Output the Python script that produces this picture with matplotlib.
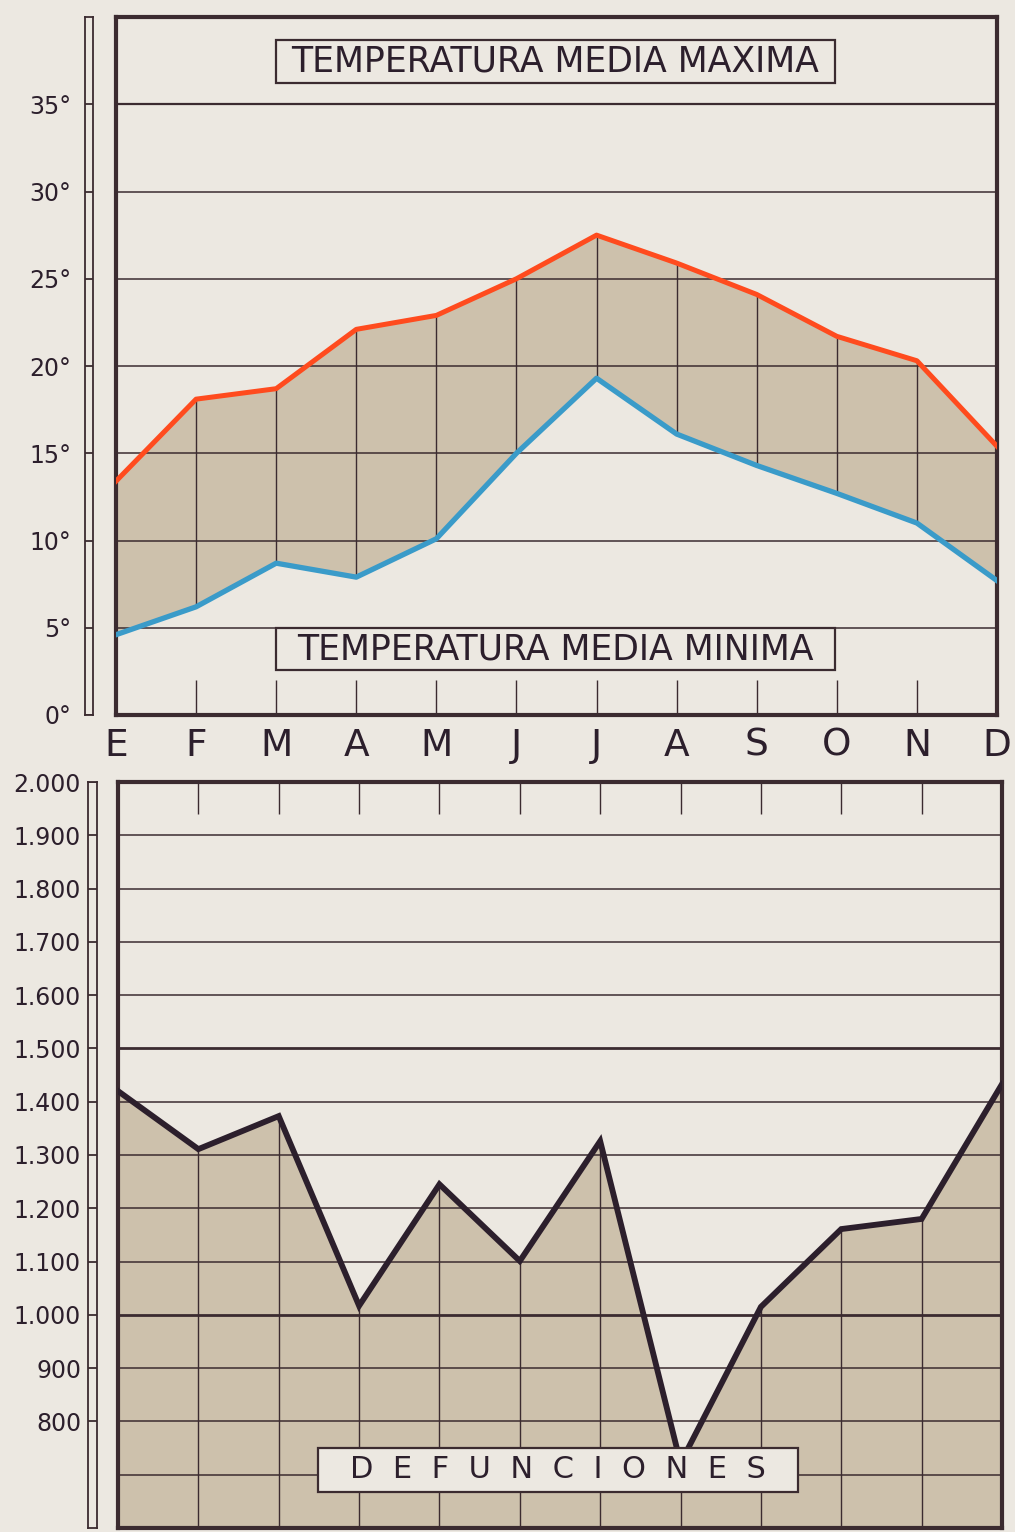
import matplotlib
matplotlib.use("Agg")
import matplotlib.pyplot as plt
from matplotlib.patches import Rectangle
import numpy as np

# ---------------- data ----------------
months = ["E", "F", "M", "A", "M", "J", "J", "A", "S", "O", "N", "D"]
temp_max = [13.4, 18.1, 18.7, 22.1, 22.9, 25.0, 27.5, 25.9, 24.1, 21.7, 20.3, 15.4]
temp_min = [4.6, 6.2, 8.7, 7.9, 10.1, 15.0, 19.3, 16.1, 14.3, 12.7, 11.0, 7.7]
defunciones = [1420, 1311, 1373, 1017, 1245, 1101, 1326, 722, 1015, 1161, 1180, 1433]

temp_ticks = [0, 5, 10, 15, 20, 25, 30, 35]
temp_labels = ["0°", "5°", "10°", "15°", "20°", "25°", "30°", "35°"]
def_ticks = [800, 900, 1000, 1100, 1200, 1300, 1400, 1500, 1600, 1700, 1800, 1900, 2000]
def_labels = ["800", "900", "1.000", "1.100", "1.200", "1.300", "1.400",
              "1.500", "1.600", "1.700", "1.800", "1.900", "2.000"]

title_max = "TEMPERATURA MEDIA MAXIMA"
title_min = "TEMPERATURA MEDIA MINIMA"
title_def = "D  E  F  U  N  C  I  O  N  E  S"

# ---------------- style ----------------
BG = "#ECE8E1"
FILL = "#CDC1AC"
INK = "#3B2B30"
RED = "#FF4B1E"
BLUE = "#3A9BC9"
DARK = "#2C1F2C"
FONT = "DejaVu Sans"

W, H = 1015, 1532
fig = plt.figure(figsize=(W / 100, H / 100), dpi=100, facecolor=BG)


def fr(x0, y0, x1, y1):
    return [x0 / W, 1 - y1 / H, (x1 - x0) / W, (y1 - y0) / H]


def label_box(x0, y0, x1, y1, text, fontsize):
    l, b, w, h = fr(x0, y0, x1, y1)
    fig.add_artist(Rectangle((l, b), w, h, transform=fig.transFigure,
                             fc=BG, ec=INK, lw=1.6, zorder=10))
    fig.text(l + w / 2, b + h / 2, text, ha="center", va="center",
             fontsize=fontsize, family=FONT, color=DARK, zorder=11)


x = np.arange(len(months))

# ---------------- top panel ----------------
ax1 = fig.add_axes(fr(116, 17, 997, 715))
ax1.set_xlim(0, 11)
ax1.set_ylim(0, 40)
ax1.set_facecolor(BG)
ax1.set_xticks([])
ax1.set_yticks([])
for s in ax1.spines.values():
    s.set_linewidth(3)
    s.set_color(INK)

ax1.fill_between(x, temp_min, temp_max, color=FILL, lw=0, zorder=1)
for t in temp_ticks[1:]:
    ax1.axhline(t, color=INK, lw=1.6 if t == 35 else 1.1, zorder=2)
ax1.vlines(x[1:-1], np.array(temp_min)[1:-1], np.array(temp_max)[1:-1],
           color=INK, lw=1.0, zorder=2)
ax1.vlines(x[1:-1], 0, 2, color=INK, lw=1.0, zorder=2)
ax1.plot(x, temp_max, color=RED, lw=3.6, zorder=4, solid_joinstyle="round")
ax1.plot(x, temp_min, color=BLUE, lw=3.8, zorder=4, solid_joinstyle="round")

for i, m in enumerate(months):
    ax1.text(i, -1.75, m, ha="center", va="center", fontsize=27,
             family=FONT, color=DARK, clip_on=False)

# left scale bar (top)
bar1 = fig.add_axes(fr(85, 17, 93, 715))
bar1.set_xlim(0, 1)
bar1.set_ylim(0, 40)
bar1.set_facecolor(BG)
for s in bar1.spines.values():
    s.set_linewidth(1.3)
    s.set_color(INK)
bar1.hlines(temp_ticks, 0, 1, color=INK, lw=1.3)
bar1.set_xticks([])
bar1.set_yticks(temp_ticks)
bar1.set_yticklabels(temp_labels, fontsize=17, family=FONT, color=DARK)
bar1.tick_params(axis="y", length=0, pad=10)

# ---------------- bottom panel ----------------
ax2 = fig.add_axes(fr(118, 782, 1002, 1528))
ax2.set_xlim(0, 11)
ax2.set_ylim(600, 2000)
ax2.set_facecolor(BG)
ax2.set_xticks([])
ax2.set_yticks([])
for s in ax2.spines.values():
    s.set_linewidth(3)
    s.set_color(INK)

ax2.fill_between(x, 600, defunciones, color=FILL, lw=0, zorder=1)
for t in range(700, 2000, 100):
    ax2.axhline(t, color=INK, lw=2.0 if t in (1000, 1500) else 1.1, zorder=2)
ax2.vlines(x[1:-1], 600, np.array(defunciones)[1:-1], color=INK, lw=1.0, zorder=2)
ax2.vlines(x[1:-1], 1940, 2000, color=INK, lw=1.0, zorder=2)
ax2.plot(x, defunciones, color=DARK, lw=4.2, zorder=4, solid_joinstyle="miter")

# left scale bar (bottom)
bar2 = fig.add_axes(fr(88, 782, 97, 1528))
bar2.set_xlim(0, 1)
bar2.set_ylim(600, 2000)
bar2.set_facecolor(BG)
for s in bar2.spines.values():
    s.set_linewidth(1.3)
    s.set_color(INK)
bar2.hlines(def_ticks, 0, 1, color=INK, lw=1.3)
bar2.set_xticks([])
bar2.set_yticks(def_ticks)
bar2.set_yticklabels(def_labels, fontsize=17, family=FONT, color=DARK)
bar2.tick_params(axis="y", length=0, pad=5)

# ---------------- label boxes ----------------
label_box(276, 40, 835, 83, title_max, 25)
label_box(276, 628, 835, 670, title_min, 25)
label_box(318, 1448, 798, 1492, title_def, 22)

fig.savefig("out.png", dpi=100, facecolor=BG)
